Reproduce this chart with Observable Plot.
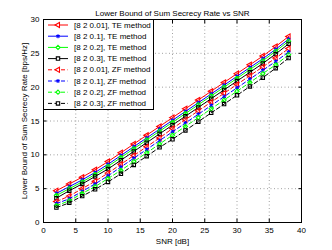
<!DOCTYPE html>
<html>
<head>
<meta charset="utf-8">
<script src="https://cdn.jsdelivr.net/npm/d3@7"></script>
<script src="https://cdn.jsdelivr.net/npm/@observablehq/plot@0.6"></script>
<style>
  html, body { margin: 0; padding: 0; background: white; }
  #chart svg { display: block; }
</style>
</head>
<body>
<div id="chart"></div>
<script>
const snr = [2, 4, 6, 8, 10, 12, 14, 16, 18, 20, 22, 24, 26, 28, 30, 32, 34, 36, 38];

const teRed   = [4.7, 5.7, 6.7, 7.8, 9.0, 10.3, 11.6, 12.9, 14.2, 15.5, 16.8, 18.1, 19.4, 20.7, 22.0, 23.3, 24.6, 26.0, 27.5];
const teBlue  = [4.3, 5.3, 6.3, 7.4, 8.6, 9.9, 11.2, 12.5, 13.8, 15.1, 16.4, 17.7, 19.0, 20.3, 21.6, 22.9, 24.2, 25.6, 27.1];
const teGreen = [4.0, 5.0, 6.0, 7.1, 8.3, 9.6, 10.9, 12.2, 13.5, 14.8, 16.1, 17.4, 18.7, 20.0, 21.3, 22.6, 23.9, 25.3, 26.8];
const teBlack = [3.6, 4.7, 5.7, 6.8, 7.9, 9.2, 10.5, 11.8, 13.1, 14.4, 15.7, 17.0, 18.3, 19.6, 20.9, 22.2, 23.5, 24.9, 26.4];
const zfRed   = [3.1, 3.9, 5.0, 6.1, 7.3, 8.6, 9.9, 11.2, 12.5, 13.9, 15.2, 16.5, 17.8, 19.1, 20.4, 21.7, 23.0, 24.3, 25.7];
const zfBlue  = [2.8, 3.5, 4.6, 5.7, 6.9, 8.2, 9.5, 10.8, 12.1, 13.4, 14.7, 16.0, 17.3, 18.6, 19.9, 21.2, 22.5, 23.8, 25.2];
const zfGreen = [2.5, 3.2, 4.3, 5.3, 6.5, 7.7, 9.0, 10.3, 11.6, 12.9, 14.2, 15.5, 16.8, 18.1, 19.4, 20.7, 22.0, 23.3, 24.8];
const zfBlack = [2.2, 2.9, 3.9, 4.9, 6.0, 7.2, 8.5, 9.8, 11.1, 12.3, 13.6, 14.9, 16.2, 17.5, 18.8, 20.1, 21.4, 22.8, 24.3];

const seriesNames = [
  "[8 2 0.01], TE method", "[8 2 0.1], TE method", "[8 2 0.2], TE method", "[8 2 0.3], TE method",
  "[8 2 0.01], ZF method", "[8 2 0.1], ZF method", "[8 2 0.2], ZF method", "[8 2 0.3], ZF method"
];
const seriesValues = [teRed, teBlue, teGreen, teBlack, zfRed, zfBlue, zfGreen, zfBlack];
const seriesColors = ["#ff0000", "#0000ff", "#00ff00", "#000000", "#ff0000", "#0000ff", "#00ff00", "#000000"];
const seriesSymbols = ["triangle", "asterisk", "diamond2", "square", "triangle", "asterisk", "diamond2", "square"];
const seriesRotate = [-90, 0, 0, 0, -90, 0, 0, 0];
const seriesDashed = [false, false, false, false, true, true, true, true];

const xTicks = [0, 5, 10, 15, 20, 25, 30, 35, 40];
const yTicks = [0, 5, 10, 15, 20, 25, 30];

const title = "Lower Bound of Sum Secrecy Rate vs SNR";
const xLabel = "SNR [dB]";
const yLabel = "Lower Bound of Sum Secrecy Rate [bps/Hz]";

const rows = [];
seriesNames.forEach((name, i) => {
  snr.forEach((s, j) => rows.push({series: name, idx: i, snr: s, value: seriesValues[i][j]}));
});

const dash = "4,2.5";
const markR = 1.9;

const marks = [
  Plot.gridX(xTicks, {stroke: "#8a8a8a", strokeOpacity: 1, strokeDasharray: "1,2.5", strokeWidth: 0.8}),
  Plot.gridY(yTicks, {stroke: "#8a8a8a", strokeOpacity: 1, strokeDasharray: "1,2.5", strokeWidth: 0.8})
];
seriesNames.forEach((name, i) => {
  const d = rows.filter(r => r.idx === i);
  marks.push(Plot.line(d, {x: "snr", y: "value", stroke: seriesColors[i], strokeWidth: 1,
    strokeDasharray: seriesDashed[i] ? dash : null}));
  marks.push(Plot.dot(d, {x: "snr", y: "value", stroke: seriesColors[i], fill: "none", strokeWidth: 1.1,
    symbol: seriesSymbols[i], r: markR, rotate: seriesRotate[i]}));
});
marks.push(
  Plot.frame({stroke: "black", strokeWidth: 1}),
  Plot.axisX(xTicks, {tickSize: 0, tickPadding: 5, label: null, fontSize: 8}),
  Plot.axisX(xTicks, {anchor: "bottom", tickSize: -3.5, text: null, label: null, tickPadding: 0}),
  Plot.axisX(xTicks, {anchor: "top", tickSize: -3.5, text: null, label: null, tickPadding: 0}),
  Plot.axisY(yTicks, {tickSize: 0, tickPadding: 4, label: null, fontSize: 8}),
  Plot.axisY(yTicks, {anchor: "left", tickSize: -3.5, text: null, label: null, tickPadding: 0}),
  Plot.axisY(yTicks, {anchor: "right", tickSize: -3.5, text: null, label: null, tickPadding: 0}),
  Plot.text([title], {frameAnchor: "top", dy: -9, fontSize: 8, fill: "black", textAnchor: "middle"}),
  Plot.text([xLabel], {frameAnchor: "bottom", dy: 21, fontSize: 8, fill: "black", textAnchor: "middle"}),
  Plot.text([yLabel], {frameAnchor: "left", dx: -19, rotate: -90, fontSize: 8, fill: "black", textAnchor: "middle"})
);

const svg = Plot.plot({
  width: 332,
  height: 250,
  marginLeft: 43,
  marginRight: 31,
  marginTop: 19,
  marginBottom: 28,
  style: {fontFamily: "'Liberation Sans', Arial, sans-serif", fontSize: "8px", background: "white", color: "black"},
  x: {domain: [0, 40], axis: null},
  y: {domain: [0, 30], axis: null},
  marks
});

// Legend (top-left inside the axes box)
const g = d3.select(svg).append("g")
  .attr("font-family", "'Liberation Sans', Arial, sans-serif").attr("font-size", 8).attr("text-anchor", "start");
const lx = 43, ly = 19, lw = 110, lh = 90, rowH = 11.2, row0 = 6;
g.append("rect").attr("x", lx + 0.5).attr("y", ly + 0.5).attr("width", lw).attr("height", lh)
  .attr("fill", "white").attr("stroke", "black").attr("stroke-width", 1);
const symMap = {triangle: d3.symbolTriangle, asterisk: d3.symbolAsterisk, diamond2: d3.symbolDiamond2, square: d3.symbolSquare};
seriesNames.forEach((name, i) => {
  const y = ly + row0 + i * rowH;
  g.append("line").attr("x1", lx + 5).attr("x2", lx + 25).attr("y1", y).attr("y2", y)
    .attr("stroke", seriesColors[i]).attr("stroke-width", 1)
    .attr("stroke-dasharray", seriesDashed[i] ? dash : null);
  g.append("path").attr("d", d3.symbol(symMap[seriesSymbols[i]], Math.PI * markR * markR)())
    .attr("transform", `translate(${lx + 15},${y}) rotate(${seriesRotate[i]})`)
    .attr("fill", "white").attr("stroke", seriesColors[i]).attr("stroke-width", 1.1);
  g.append("text").attr("x", lx + 31).attr("y", y).attr("dy", "0.32em")
    .attr("text-anchor", "start").attr("fill", "black").text(name);
});

document.getElementById("chart").appendChild(svg);
</script>
</body>
</html>
